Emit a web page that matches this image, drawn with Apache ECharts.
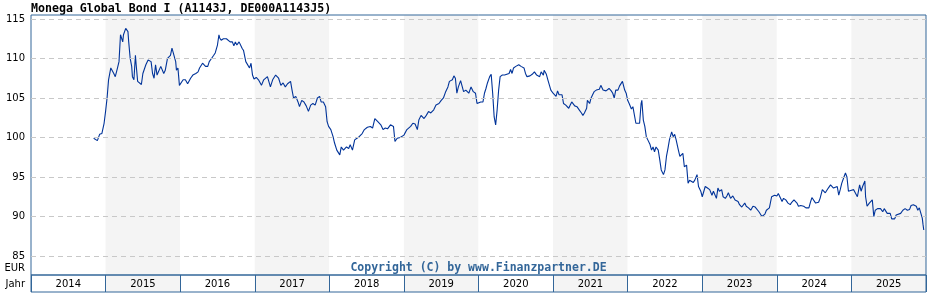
<!DOCTYPE html>
<html>
<head>
<meta charset="utf-8">
<script src="https://cdn.jsdelivr.net/npm/echarts@6/dist/echarts.min.js"></script>
<style>
html,body{margin:0;padding:0;background:#fff;}
#chart{width:928px;height:300px;}
</style>
</head>
<body>
<div id="chart"></div>
<script>
const titleText = 'Monega Global Bond I (A1143J, DE000A1143J5)';
const copyrightText = 'Copyright (C) by www.Finanzpartner.DE';
const years = ['2014','2015','2016','2017','2018','2019','2020','2021','2022','2023','2024','2025'];
const yTicks = [85, 90, 95, 100, 105, 110, 115];
const unitLabel = 'EUR';
const yearLabel = 'Jahr';

// time as decimal year
const times = [
2014.84,2014.86,2014.89,2014.92,2014.95,2014.98,2015.00,2015.02,2015.04,2015.07,2015.09,2015.11,2015.13,2015.16,2015.18,2015.20,2015.21,2015.23,2015.24,2015.27,
2015.28,2015.30,2015.31,2015.33,2015.35,2015.36,2015.38,2015.40,2015.41,2015.43,2015.45,2015.48,2015.50,2015.52,2015.54,2015.57,2015.59,2015.61,2015.63,2015.65,
2015.67,2015.69,2015.71,2015.74,2015.76,2015.78,2015.80,2015.83,2015.85,2015.87,2015.89,2015.91,2015.94,2015.95,2015.97,2015.99,2016.01,2016.04,2016.07,2016.10,
2016.14,2016.17,2016.21,2016.24,2016.26,2016.30,2016.32,2016.34,2016.37,2016.39,2016.42,2016.45,2016.47,2016.50,2016.52,2016.53,2016.55,2016.58,2016.62,2016.64,
2016.67,2016.70,2016.72,2016.74,2016.76,2016.79,2016.81,2016.83,2016.85,2016.88,2016.90,2016.93,2016.95,2016.97,2016.99,2017.02,2017.05,2017.09,2017.12,2017.14,
2017.17,2017.21,2017.24,2017.28,2017.30,2017.32,2017.35,2017.38,2017.41,2017.44,2017.48,2017.50,2017.52,2017.55,2017.58,2017.60,2017.63,2017.66,2017.69,2017.72,
2017.75,2017.78,2017.81,2017.84,2017.87,2017.89,2017.92,2017.95,2017.97,2017.99,2018.02,2018.05,2018.07,2018.10,2018.12,2018.14,2018.16,2018.19,2018.23,2018.26,
2018.28,2018.31,2018.34,2018.37,2018.40,2018.44,2018.47,2018.51,2018.55,2018.58,2018.61,2018.63,2018.65,2018.69,2018.72,2018.75,2018.78,2018.82,2018.86,2018.88,
2018.91,2018.95,2019.00,2019.04,2019.09,2019.12,2019.15,2019.18,2019.20,2019.23,2019.27,2019.30,2019.33,2019.36,2019.40,2019.43,2019.47,2019.50,2019.53,2019.56,
2019.59,2019.61,2019.65,2019.67,2019.69,2019.71,2019.73,2019.76,2019.78,2019.80,2019.83,2019.87,2019.90,2019.93,2019.96,2019.98,2020.00,2020.03,2020.06,2020.08,
2020.10,2020.12,2020.15,2020.17,2020.19,2020.21,2020.23,2020.25,2020.27,2020.29,2020.32,2020.35,2020.37,2020.41,2020.43,2020.45,2020.47,2020.50,2020.54,2020.57,
2020.61,2020.63,2020.65,2020.69,2020.72,2020.75,2020.78,2020.80,2020.82,2020.84,2020.87,2020.88,2020.91,2020.93,2020.95,2020.97,2021.00,2021.02,2021.04,2021.06,
2021.08,2021.12,2021.14,2021.17,2021.19,2021.21,2021.23,2021.25,2021.29,2021.32,2021.35,2021.38,2021.40,2021.42,2021.45,2021.46,2021.49,2021.51,2021.53,2021.55,
2021.58,2021.60,2021.62,2021.64,2021.67,2021.69,2021.71,2021.73,2021.75,2021.78,2021.80,2021.82,2021.84,2021.87,2021.89,2021.91,2021.93,2021.96,2021.98,2022.00,
2022.02,2022.05,2022.07,2022.09,2022.11,2022.13,2022.16,2022.18,2022.19,2022.21,2022.23,2022.25,2022.27,2022.30,2022.32,2022.34,2022.36,2022.38,2022.41,2022.43,
2022.45,2022.48,2022.50,2022.52,2022.54,2022.56,2022.59,2022.61,2022.63,2022.65,2022.68,2022.70,2022.72,2022.74,2022.76,2022.79,2022.81,2022.83,2022.85,2022.88,
2022.90,2022.93,2022.95,2022.98,2023.00,2023.02,2023.04,2023.07,2023.10,2023.13,2023.15,2023.19,2023.21,2023.23,2023.26,2023.28,2023.31,2023.33,2023.35,2023.38,
2023.41,2023.44,2023.48,2023.50,2023.53,2023.57,2023.59,2023.62,2023.65,2023.68,2023.71,2023.73,2023.76,2023.78,2023.80,2023.82,2023.84,2023.86,2023.88,2023.90,
2023.93,2023.95,2023.97,2024.00,2024.02,2024.05,2024.07,2024.09,2024.12,2024.15,2024.18,2024.20,2024.23,2024.25,2024.27,2024.29,2024.32,2024.36,2024.39,2024.43,
2024.45,2024.47,2024.49,2024.52,2024.54,2024.56,2024.58,2024.61,2024.63,2024.65,2024.67,2024.69,2024.72,2024.74,2024.76,2024.78,2024.81,2024.83,2024.85,2024.87,
2024.90,2024.92,2024.94,2024.96,2024.99,2025.03,2025.08,2025.11,2025.13,2025.15,2025.18,2025.19,2025.21,2025.24,2025.26,2025.28,2025.30,2025.32,2025.35,2025.39,
2025.42,2025.44,2025.48,2025.52,2025.54,2025.58,2025.60,2025.62,2025.66,2025.69,2025.72,2025.75,2025.78,2025.80,2025.83,2025.87,2025.89,2025.91,2025.93,2025.95,
2025.96,2025.97
];
const prices = [
99.9,99.9,99.6,100.4,100.5,101.8,103.3,105.0,107.3,108.8,109.0,108.1,107.7,108.8,109.6,113.0,113.2,112.1,113.0,113.8,
113.9,113.4,112.1,110.0,109.0,107.7,107.3,110.4,109.2,107.1,106.9,106.7,108.1,107.9,109.2,109.8,109.6,109.6,108.1,107.5,
109.2,107.9,107.7,109.0,109.2,108.1,108.5,110.0,110.2,110.4,111.3,111.5,109.6,108.5,108.8,106.6,106.4,107.3,107.3,106.8,
107.5,107.9,108.1,108.3,108.8,109.4,109.2,109.0,109.0,109.6,110.0,110.4,110.7,111.7,113.0,112.6,112.3,112.5,112.5,112.3,
112.1,112.1,111.6,112.1,111.7,112.1,111.9,111.3,111.0,109.6,109.4,108.8,109.4,107.9,107.4,107.6,107.3,106.6,107.3,107.4,
107.7,106.4,107.3,107.9,108.1,107.5,106.6,106.9,106.4,106.8,107.1,106.0,105.0,105.2,104.5,103.9,104.7,104.5,104.0,103.3,
104.1,104.3,104.1,105.0,105.2,104.5,104.5,103.9,102.0,101.4,101.0,100.1,99.3,98.4,98.6,97.8,98.8,98.4,98.8,98.6,
99.1,98.4,99.7,99.9,100.1,100.5,101.0,101.3,101.4,101.2,102.4,102.6,102.0,101.6,101.0,101.2,101.1,101.6,101.4,99.5,
99.9,100.0,100.3,101.0,101.4,101.8,101.7,101.0,102.2,102.8,102.4,102.8,103.3,103.1,103.5,104.1,104.3,104.7,105.0,105.8,
106.4,107.1,107.3,107.8,107.5,105.6,106.4,107.2,107.1,105.8,106.0,105.6,106.4,105.8,105.6,104.3,104.1,104.5,104.5,105.6,
106.2,106.9,107.7,108.0,105.6,102.6,101.6,103.5,106.0,107.7,107.9,107.9,107.7,108.1,108.6,108.1,108.8,109.0,109.2,109.0,
108.8,108.1,107.7,107.8,108.0,108.3,107.9,108.1,107.7,108.3,107.9,108.5,108.0,107.3,107.1,106.0,105.6,105.4,105.2,105.9,
105.4,105.4,104.3,104.1,104.1,103.7,104.1,104.5,104.0,103.9,103.5,103.1,102.8,103.1,103.7,104.7,104.3,105.0,105.4,105.8,
106.0,106.2,106.1,106.6,106.0,105.8,105.9,105.7,106.2,105.9,105.6,105.0,106.0,106.0,106.5,106.6,107.1,106.0,105.6,104.7,
104.3,103.6,103.9,104.1,101.8,101.6,101.8,104.3,104.7,102.2,101.4,100.1,99.7,99.1,98.4,98.8,98.2,98.8,98.4,97.2,
95.9,95.3,95.9,97.6,98.6,99.7,100.7,100.1,100.4,99.7,98.4,97.6,97.4,98.0,96.3,96.5,94.2,94.6,94.6,94.3,
94.6,95.3,93.8,93.2,92.5,92.7,93.8,93.6,93.4,92.7,93.2,92.3,93.6,93.2,93.4,92.5,92.3,92.6,93.0,92.3,
92.6,92.1,91.9,91.5,91.2,91.7,91.3,91.1,90.8,91.3,91.2,91.0,90.6,90.4,90.0,89.8,90.3,90.8,90.6,91.1,
92.5,92.3,92.7,92.6,92.9,92.3,91.9,92.3,92.1,91.7,91.5,91.8,92.1,92.3,91.7,91.3,91.4,91.3,91.1,91.1,
91.8,92.4,92.2,91.7,91.5,91.8,92.3,93.4,93.2,93.0,93.0,93.6,94.0,93.8,93.6,93.7,93.8,92.7,93.4,94.2,
95.0,95.5,95.0,93.2,93.3,93.4,92.5,94.0,93.2,93.8,94.5,92.5,91.3,91.7,91.6,92.1,90.0,90.8,91.0,91.0,
90.6,91.0,90.4,90.4,89.7,89.7,90.2,90.1,90.4,90.8,91.0,90.8,90.9,91.4,91.5,91.3,90.8,91.1,91.0,89.8,
89.0,88.3
];

const chart = echarts.init(document.getElementById('chart'), null, {renderer: 'canvas'});
const blue = '#336699';
const labelFont = 'DejaVu Sans';
const monoFont = 'DejaVu Sans Mono';

chart.setOption({
  animation: false,
  backgroundColor: '#ffffff',
  grid: [
    {left: 31, top: 15, width: 895, height: 260, show: true, borderColor: blue, borderWidth: 1, backgroundColor: 'transparent', z: 3},
    {left: 31, top: 275, width: 895, height: 17, show: true, borderColor: blue, borderWidth: 1, backgroundColor: 'transparent', z: 3}
  ],
  xAxis: [
    {
      type: 'value', gridIndex: 0, min: 2014, max: 2026, interval: 1,
      axisLabel: {show: false}, axisTick: {show: false}, axisLine: {show: false},
      splitLine: {show: false},
      splitArea: {show: true, areaStyle: {color: ['#ffffff', '#f4f4f4']}}
    },
    {
      type: 'category', gridIndex: 1, data: years, boundaryGap: true, position: 'top',
      axisLine: {show: false}, axisTick: {show: false},
      splitLine: {show: true, lineStyle: {color: blue, width: 1}},
      splitArea: {show: true, areaStyle: {color: ['#ffffff', '#f4f4f4']}},
      axisLabel: {inside: true, margin: 9, verticalAlign: 'middle', color: '#000', fontFamily: labelFont, fontSize: 10}
    }
  ],
  yAxis: [
    {
      type: 'value', gridIndex: 0, min: 82.6, max: 115.5,
      axisLine: {show: false}, axisTick: {show: false},
      splitLine: {show: false},
      axisLabel: {customValues: yTicks, color: '#000', fontFamily: labelFont, fontSize: 10, margin: 6}
    },
    {type: 'value', gridIndex: 1, show: false, min: 0, max: 1}
  ],
  series: [
    {
      type: 'line', xAxisIndex: 0, yAxisIndex: 0, data: [], z: 1, silent: true,
      markLine: {
        silent: true, symbol: ['none', 'none'], label: {show: false},
        lineStyle: {color: '#c8c8c8', type: [5, 4], width: 1},
        data: yTicks.map(v => ({yAxis: v}))
      }
    },
    {
      type: 'line', xAxisIndex: 0, yAxisIndex: 0, z: 2,
      data: times.map((t, i) => [t, prices[i]]),
      showSymbol: false, symbol: 'none',
      lineStyle: {color: '#003399', width: 1.1},
      itemStyle: {color: '#003399'}
    }
  ],
  graphic: [
    {type: 'text', left: 31, top: 3, style: {text: titleText, font: 'bold 11.6px "' + monoFont + '"', fill: '#000'}},
    {type: 'text', x: 478.5, y: 268, style: {text: copyrightText, font: 'bold 11.5px "' + monoFont + '"', fill: blue, align: 'center', verticalAlign: 'middle'}, z: 10},
    {type: 'text', x: 25, y: 268, style: {text: unitLabel, font: '10px "' + labelFont + '"', fill: '#000', align: 'right', verticalAlign: 'middle'}},
    {type: 'text', x: 25, y: 284, style: {text: yearLabel, font: '10px "' + labelFont + '"', fill: '#000', align: 'right', verticalAlign: 'middle'}}
  ]
});
</script>
</body>
</html>
